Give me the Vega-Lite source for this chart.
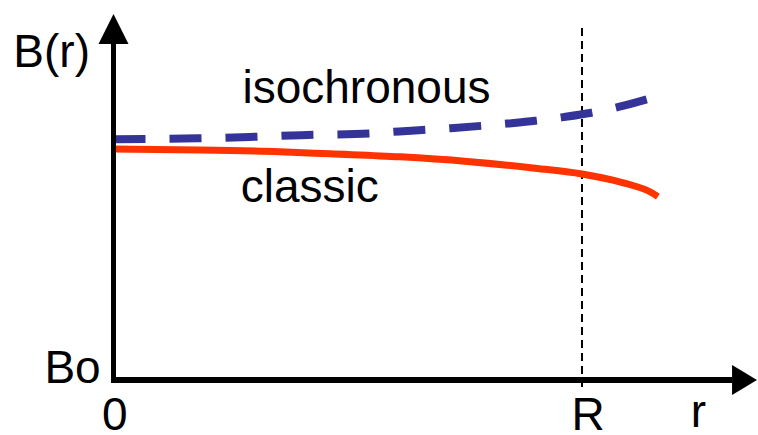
{
  "$schema": "https://vega.github.io/schema/vega-lite/v6.json",
  "width": 758,
  "height": 435,
  "padding": 0,
  "autosize": {"type": "none"},
  "config": {"view": {"stroke": null}, "text": {"font": "Liberation Sans", "fontSize": 46, "color": "#000000"}},
  "datasets": {
    "curves": [
      {"series": "isochronous", "r": 0.0, "B": 1.042},
      {"series": "isochronous", "r": 0.18, "B": 1.046},
      {"series": "isochronous", "r": 0.30, "B": 1.053},
      {"series": "isochronous", "r": 0.40, "B": 1.060},
      {"series": "isochronous", "r": 0.55, "B": 1.068},
      {"series": "isochronous", "r": 0.61, "B": 1.076},
      {"series": "isochronous", "r": 0.72, "B": 1.090},
      {"series": "isochronous", "r": 0.84, "B": 1.110},
      {"series": "isochronous", "r": 0.90, "B": 1.122},
      {"series": "isochronous", "r": 0.96, "B": 1.138},
      {"series": "isochronous", "r": 1.02, "B": 1.157},
      {"series": "isochronous", "r": 1.08, "B": 1.183},
      {"series": "isochronous", "r": 1.14, "B": 1.216},
      {"series": "classic", "r": 0.0, "B": 1.0},
      {"series": "classic", "r": 0.185, "B": 0.996},
      {"series": "classic", "r": 0.355, "B": 0.988},
      {"series": "classic", "r": 0.462, "B": 0.979},
      {"series": "classic", "r": 0.612, "B": 0.966},
      {"series": "classic", "r": 0.755, "B": 0.946},
      {"series": "classic", "r": 0.895, "B": 0.918},
      {"series": "classic", "r": 1.0, "B": 0.892},
      {"series": "classic", "r": 1.066, "B": 0.865},
      {"series": "classic", "r": 1.109, "B": 0.842},
      {"series": "classic", "r": 1.145, "B": 0.815},
      {"series": "classic", "r": 1.162, "B": 0.794}
    ],
    "labels": [
      {"text": "isochronous", "r": 0.540, "B": 1.199},
      {"text": "classic", "r": 0.419, "B": 0.771},
      {"text": "B(r)", "r": -0.132, "B": 1.355},
      {"text": "Bo", "r": -0.0875, "B": -0.013},
      {"text": "0", "r": 0.003, "B": -0.215},
      {"text": "R", "r": 1.0128, "B": -0.215},
      {"text": "r", "r": 1.2487, "B": -0.205}
    ]
  },
  "layer": [
    {
      "data": {"values": [{}]},
      "mark": {"type": "rule", "strokeWidth": 2, "strokeDash": [8, 5], "color": "#000000"},
      "encoding": {
        "x": {"datum": 1.0, "type": "quantitative", "scale": {"domain": [-0.24226, 1.37567], "nice": false, "zero": false}, "axis": null},
        "y": {"datum": -0.03, "type": "quantitative", "scale": {"domain": [-0.2381, 1.64502], "nice": false, "zero": false}, "axis": null},
        "y2": {"datum": 1.524}
      }
    },
    {
      "data": {"name": "curves"},
      "transform": [{"filter": "datum.series === 'classic'"}],
      "mark": {"type": "line", "interpolate": "monotone", "strokeWidth": 7, "color": "#ff3300", "strokeCap": "butt"},
      "encoding": {
        "x": {"field": "r", "type": "quantitative", "scale": {"domain": [-0.24226, 1.37567], "nice": false, "zero": false}, "axis": null},
        "y": {"field": "B", "type": "quantitative", "scale": {"domain": [-0.2381, 1.64502], "nice": false, "zero": false}, "axis": null}
      }
    },
    {
      "data": {"name": "curves"},
      "transform": [{"filter": "datum.series === 'isochronous'"}],
      "mark": {"type": "line", "interpolate": "monotone", "strokeWidth": 8, "color": "#333399", "strokeDash": [32, 24], "strokeCap": "butt"},
      "encoding": {
        "x": {"field": "r", "type": "quantitative", "scale": {"domain": [-0.24226, 1.37567], "nice": false, "zero": false}, "axis": null},
        "y": {"field": "B", "type": "quantitative", "scale": {"domain": [-0.2381, 1.64502], "nice": false, "zero": false}, "axis": null}
      }
    },
    {
      "data": {"values": [{}]},
      "mark": {"type": "rule", "strokeWidth": 5, "color": "#000000"},
      "encoding": {
        "x": {"datum": 0, "type": "quantitative", "scale": {"domain": [-0.24226, 1.37567], "nice": false, "zero": false}, "axis": null},
        "y": {"datum": -0.013, "type": "quantitative", "scale": {"domain": [-0.2381, 1.64502], "nice": false, "zero": false}, "axis": null},
        "y2": {"datum": 1.4545}
      }
    },
    {
      "data": {"values": [{}]},
      "mark": {"type": "rule", "strokeWidth": 6, "color": "#000000"},
      "encoding": {
        "x": {"datum": -0.0053, "type": "quantitative", "scale": {"domain": [-0.24226, 1.37567], "nice": false, "zero": false}, "axis": null},
        "x2": {"datum": 1.3202},
        "y": {"datum": 0, "type": "quantitative", "scale": {"domain": [-0.2381, 1.64502], "nice": false, "zero": false}, "axis": null}
      }
    },
    {
      "data": {"values": [{}]},
      "mark": {"type": "point", "shape": "M0,-1L1,1L-1,1Z", "size": 900, "filled": true, "color": "#000000", "opacity": 1, "strokeWidth": 0},
      "encoding": {
        "x": {"datum": 0, "type": "quantitative", "scale": {"domain": [-0.24226, 1.37567], "nice": false, "zero": false}, "axis": null},
        "y": {"datum": 1.5195, "type": "quantitative", "scale": {"domain": [-0.2381, 1.64502], "nice": false, "zero": false}, "axis": null}
      }
    },
    {
      "data": {"values": [{}]},
      "mark": {"type": "point", "shape": "M-0.83,-1L0.83,0L-0.83,1Z", "size": 900, "filled": true, "color": "#000000", "opacity": 1, "strokeWidth": 0},
      "encoding": {
        "x": {"datum": 1.3469, "type": "quantitative", "scale": {"domain": [-0.24226, 1.37567], "nice": false, "zero": false}, "axis": null},
        "y": {"datum": 0, "type": "quantitative", "scale": {"domain": [-0.2381, 1.64502], "nice": false, "zero": false}, "axis": null}
      }
    },
    {
      "data": {"name": "labels"},
      "mark": {"type": "text", "align": "center", "baseline": "alphabetic"},
      "encoding": {
        "x": {"field": "r", "type": "quantitative", "scale": {"domain": [-0.24226, 1.37567], "nice": false, "zero": false}, "axis": null},
        "y": {"field": "B", "type": "quantitative", "scale": {"domain": [-0.2381, 1.64502], "nice": false, "zero": false}, "axis": null},
        "text": {"field": "text", "type": "nominal"}
      }
    }
  ]
}
